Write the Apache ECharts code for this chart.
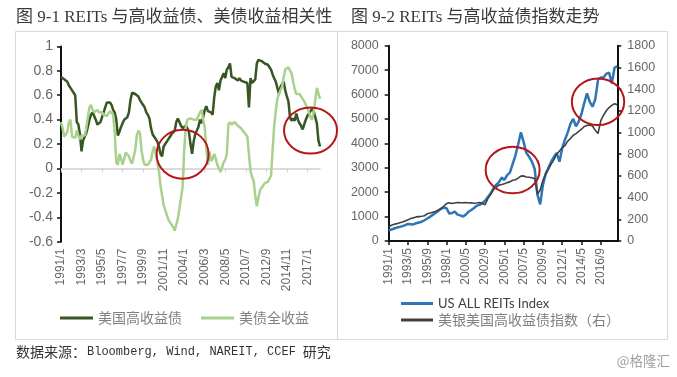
<!DOCTYPE html>
<html><head><meta charset="utf-8">
<script src="https://cdn.jsdelivr.net/npm/echarts@6/dist/echarts.min.js"></script>
<style>html,body{margin:0;padding:0;background:#fff}#c{width:677px;height:377px}</style>
</head><body><div id="c"></div>
<script>
// ---- Left chart: correlations (2-month steps from 1991/1) ----
const corrHY = [0.75,0.75,0.73,0.72,0.71,0.68,0.66,0.64,0.62,0.60,
 0.38,0.36,0.28,0.14,0.23,0.22,0.29,0.34,0.40,0.44,
 0.46,0.43,0.40,0.36,0.35,0.38,0.42,0.46,0.50,0.54,
 0.55,0.54,0.52,0.48,0.46,0.40,0.27,0.30,0.34,0.37,
 0.40,0.39,0.42,0.46,0.56,0.62,0.63,0.61,0.60,0.59,
 0.56,0.55,0.52,0.50,0.46,0.44,0.41,0.33,0.28,0.26,
 0.24,0.22,0.18,0.12,0.10,0.18,0.20,0.22,0.24,0.26,
 0.28,0.29,0.31,0.38,0.41,0.38,0.35,0.33,0.33,0.35,
 0.33,0.30,0.20,0.12,0.22,0.28,0.31,0.34,0.40,0.37,
 0.42,0.48,0.51,0.47,0.48,0.46,0.44,0.58,0.67,0.70,
 0.64,0.72,0.75,0.78,0.74,0.81,0.83,0.86,0.75,0.76,
 0.74,0.75,0.72,0.74,0.72,0.73,0.71,0.72,0.70,0.50,
 0.74,0.70,0.70,0.73,0.86,0.89,0.89,0.88,0.87,0.86,
 0.86,0.85,0.84,0.81,0.77,0.74,0.71,0.66,0.61,0.67,
 0.69,0.71,0.64,0.59,0.55,0.42,0.39,0.41,0.39,0.45,
 0.40,0.37,0.35,0.32,0.33,0.40,0.43,0.45,0.47,0.49,
 0.47,0.46,0.37,0.23,0.18];
const corrTsy = [0.38,0.33,0.26,0.27,0.30,0.38,0.40,0.26,0.26,0.25,
 0.31,0.27,0.24,0.27,0.28,0.27,0.33,0.42,0.50,0.52,
 0.48,0.46,0.45,0.48,0.46,0.45,0.46,0.44,0.45,0.43,
 0.44,0.47,0.48,0.44,0.30,0.05,0.03,0.12,0.08,0.03,
 0.08,0.13,0.14,0.10,0.06,0.04,0.04,0.15,0.27,0.31,
 0.29,0.15,0.07,0.03,0.04,0.03,0.04,0.07,0.14,0.18,
 0.12,0.05,-0.02,-0.14,-0.22,-0.30,-0.34,-0.38,-0.42,-0.44,
 -0.46,-0.48,-0.51,-0.46,-0.41,-0.33,-0.24,-0.15,0.15,0.34,
 0.40,0.40,0.41,0.41,0.40,0.40,0.40,0.40,0.46,0.48,
 0.40,0.34,0.17,0.03,0.14,0.06,0.08,0.12,0.08,0.03,
 0.02,-0.03,0.01,0.05,0.07,0.12,0.36,0.38,0.36,0.35,
 0.38,0.37,0.35,0.36,0.33,0.31,0.30,0.28,0.26,0.12,
 -0.02,-0.07,-0.10,-0.22,-0.31,-0.24,-0.18,-0.16,-0.16,-0.12,
 -0.12,-0.11,-0.10,-0.06,0.15,0.35,0.47,0.57,0.61,0.64,
 0.67,0.75,0.81,0.82,0.83,0.80,0.78,0.71,0.65,0.61,
 0.62,0.61,0.59,0.60,0.55,0.52,0.50,0.46,0.42,0.40,
 0.46,0.56,0.66,0.67,0.57];

// ---- Right chart: indices (4-month steps from 1991/1) ----
const reitIdx = [430,470,510,550,580,610,650,700,690,680,
 730,760,790,850,920,990,1070,1150,1230,1320,
 1370,1340,1120,1150,1200,1080,1050,1000,1080,1200,
 1270,1350,1450,1480,1560,1650,1800,1950,2150,2300,
 2400,2600,2500,2700,2800,3150,3500,3950,4450,4050,
 3600,3450,3250,2950,1900,1500,2300,2750,3000,3250,
 3450,3600,3250,3800,4150,4450,4800,5000,4700,4900,
 5200,5650,6050,5700,5500,5800,6600,6700,6700,6850,
 6900,6450,7100,7150];
const hyIdx = [130,145,155,160,168,175,185,195,208,215,
 222,225,228,232,252,258,265,272,285,300,
 320,345,352,345,350,355,352,353,355,350,
 352,348,350,355,345,335,390,430,470,495,
 515,520,528,538,545,560,565,580,598,600,
 590,588,583,575,430,470,560,620,660,710,
 750,800,830,860,880,920,945,975,990,1010,
 1030,1055,1065,1070,1060,1020,990,1110,1160,1200,
 1230,1250,1265,1255];

function monthSeq(y, m, step, n) {
  const out = [];
  for (let k = 0; k < n; k++) {
    const t = (m - 1) + k * step;
    out.push((y + Math.floor(t / 12)) + '/' + (t % 12 + 1));
  }
  return out;
}
const catsLeft = monthSeq(1991, 1, 2, corrHY.length);
const catsRight = monthSeq(1991, 1, 4, reitIdx.length);

const names = {
  hy: '美国高收益债', tsy: '美债全收益',
  reit: 'US ALL REITs Index', hyi: '美银美国高收益债指数（右）'
};
const titleLeft = '图 9-1 REITs 与高收益债、美债收益相关性';
const titleRight = '图 9-2 REITs 与高收益债指数走势';
const sourceParts = ['数据来源：', 'Bloomberg, Wind, NAREIT, CCEF', '研究'];

const labelGray = '#666';
const cjk = "'Noto Sans CJK SC'";
const sans = "'Liberation Sans', " + cjk;
const fontCjk = "14px " + cjk;
const fontMono = "12px 'Liberation Mono', " + cjk;

// measure footer parts so they flow like one line
const mctx = document.createElement('canvas').getContext('2d');
function textW(t, f) { mctx.font = f; return mctx.measureText(t).width; }
const fx0 = 16;
const fx1 = fx0 + textW(sourceParts[0], fontCjk) + 1;
const fx2 = fx1 + textW(sourceParts[1], fontMono) + 7;

const chart = echarts.init(document.getElementById('c'), null, {renderer: 'canvas'});

const baseGraphic = [
  {id:'box1', type:'rect', shape:{x:15.5, y:31.5, width:322, height:308}, style:{fill:'none', stroke:'#d9d9d9', lineWidth:1}, silent:true},
  {id:'box2', type:'rect', shape:{x:337.5, y:31.5, width:330, height:308}, style:{fill:'none', stroke:'#d9d9d9', lineWidth:1}, silent:true},
  {id:'t1', type:'text', style:{text:titleLeft, x:16, y:18, font:"17px 'Liberation Serif', 'Noto Sans CJK SC'", fill:'#3a3a3a', textVerticalAlign:'middle'}},
  {id:'t2', type:'text', style:{text:titleRight, x:351, y:18, font:"17px 'Liberation Serif', 'Noto Sans CJK SC'", fill:'#3a3a3a', textVerticalAlign:'middle'}},
  {id:'f1', type:'text', style:{text:sourceParts[0], x:fx0, y:352, font:fontCjk, fill:'#333', textVerticalAlign:'middle'}},
  {id:'f2', type:'text', style:{text:sourceParts[1], x:fx1, y:352, font:fontMono, fill:'#333', textVerticalAlign:'middle'}},
  {id:'f3', type:'text', style:{text:sourceParts[2], x:fx2, y:352, font:fontCjk, fill:'#333', textVerticalAlign:'middle'}},
  {id:'wm', type:'text', style:{text:'@格隆汇', x:670, y:361, font:"13.5px " + cjk, fill:'#a0a0a0', textVerticalAlign:'middle', textAlign:'right'}}
];

const option = {
  animation: false,
  backgroundColor: '#fff',
  grid: [
    {left:61, top:46.4, width:259, height:195.3, outerBoundsMode:'none'},
    {left:388.7, top:45.7, width:228.6, height:195.3, outerBoundsMode:'none'}
  ],
  legend: [
    {data:[names.hy, names.tsy], left:55, top:306, icon:'rect', itemWidth:33, itemHeight:3, itemGap:19,
     textStyle:{color:'#808080', fontSize:14, fontFamily:cjk}},
    {data:[names.reit, names.hyi], orient:'vertical', left:396, top:292, icon:'rect', itemWidth:32, itemHeight:3, itemGap:3,
     formatter: n => n === names.reit ? '{en|' + n + '}' : '{zh|' + n + '}',
     textStyle:{rich:{
       en:{fontFamily:"'Lato', 'Liberation Sans'", fontSize:13, color:'#404040'},
       zh:{fontFamily:cjk, fontSize:14, color:'#808080'}
     }}}
  ],
  xAxis: [
    {gridIndex:0, type:'category', data:catsLeft, boundaryGap:false,
     axisLine:{onZero:true, lineStyle:{color:'#d0d0d0', width:1.5}},
     axisTick:{show:true, interval:12, length:4, lineStyle:{color:'#d0d0d0'}},
     axisLabel:{show:false}, splitLine:{show:false}},
    {gridIndex:0, type:'category', data:catsLeft, boundaryGap:false, position:'bottom',
     axisLine:{show:false, onZero:false}, axisTick:{show:false},
     axisLabel:{interval:12, rotate:90, margin:7, color:labelGray, fontSize:12, fontFamily:sans},
     splitLine:{show:false}},
    {gridIndex:1, type:'category', data:catsRight, boundaryGap:false,
     axisLine:{lineStyle:{color:'#111', width:2}},
     axisTick:{show:true, interval:6, length:4, lineStyle:{color:'#111', width:1.5}},
     axisLabel:{interval:6, rotate:90, margin:7, color:labelGray, fontSize:12, fontFamily:sans},
     splitLine:{show:false}}
  ],
  yAxis: [
    {gridIndex:0, type:'value', min:-0.6, max:1, interval:0.2,
     axisLine:{show:true, lineStyle:{color:'#111', width:2}},
     axisTick:{show:true, length:4, lineStyle:{color:'#111', width:1.5}},
     axisLabel:{margin:8, color:labelGray, fontSize:14, fontFamily:sans},
     splitLine:{show:false}},
    {gridIndex:1, type:'value', position:'left', min:0, max:8000, interval:1000,
     axisLine:{show:true, lineStyle:{color:'#111', width:2}},
     axisTick:{show:true, length:4, lineStyle:{color:'#111', width:1.5}},
     axisLabel:{margin:10, color:labelGray, fontSize:12.5, fontFamily:sans, formatter: v => String(v)},
     splitLine:{show:false}},
    {gridIndex:1, type:'value', position:'right', min:0, max:1800, interval:200,
     axisLine:{show:true, lineStyle:{color:'#111', width:2}},
     axisTick:{show:true, length:4, lineStyle:{color:'#111', width:1.5}},
     axisLabel:{margin:10, color:labelGray, fontSize:12.5, fontFamily:sans, formatter: v => String(v)},
     splitLine:{show:false}}
  ],
  series: [
    {name:names.hy, type:'line', xAxisIndex:0, yAxisIndex:0, data:corrHY, symbol:'none', showSymbol:false,
     color:'#375623', lineStyle:{color:'#375623', width:2.5}, itemStyle:{color:'#375623'}},
    {name:names.tsy, type:'line', xAxisIndex:0, yAxisIndex:0, data:corrTsy, symbol:'none', showSymbol:false,
     color:'#a9d18e', lineStyle:{color:'#a9d18e', width:2.5}, itemStyle:{color:'#a9d18e'}},
    {name:names.reit, type:'line', xAxisIndex:2, yAxisIndex:1, data:reitIdx, symbol:'none', showSymbol:false,
     color:'#2e75b6', lineStyle:{color:'#2e75b6', width:2.5}, itemStyle:{color:'#2e75b6'}},
    {name:names.hyi, type:'line', xAxisIndex:2, yAxisIndex:2, data:hyIdx, symbol:'none', showSymbol:false,
     color:'#404040', lineStyle:{color:'#404040', width:1.6}, itemStyle:{color:'#404040'}}
  ],
  graphic: baseGraphic
};
chart.setOption(option);

// Red highlight ellipses, placed in data coordinates
const highlights = [
  {series:0, at:[76.5, 0.117], rx:26, ry:24.5},
  {series:0, at:[158, 0.31], rx:26.5, ry:23},
  {series:2, at:[45.4, 2910], rx:27, ry:23.3},
  {series:2, at:[75.7, 5707], rx:26.2, ry:23.3}
];
const ellipses = highlights.map((h, k) => {
  const p = chart.convertToPixel({seriesIndex:h.series}, h.at);
  return {id:'e' + k, type:'ellipse', z:100, silent:true,
    shape:{cx:p[0], cy:p[1], rx:h.rx, ry:h.ry},
    style:{fill:'none', stroke:'#b5161b', lineWidth:2}};
});
chart.setOption({graphic: baseGraphic.concat(ellipses)});
</script>
</body></html>
